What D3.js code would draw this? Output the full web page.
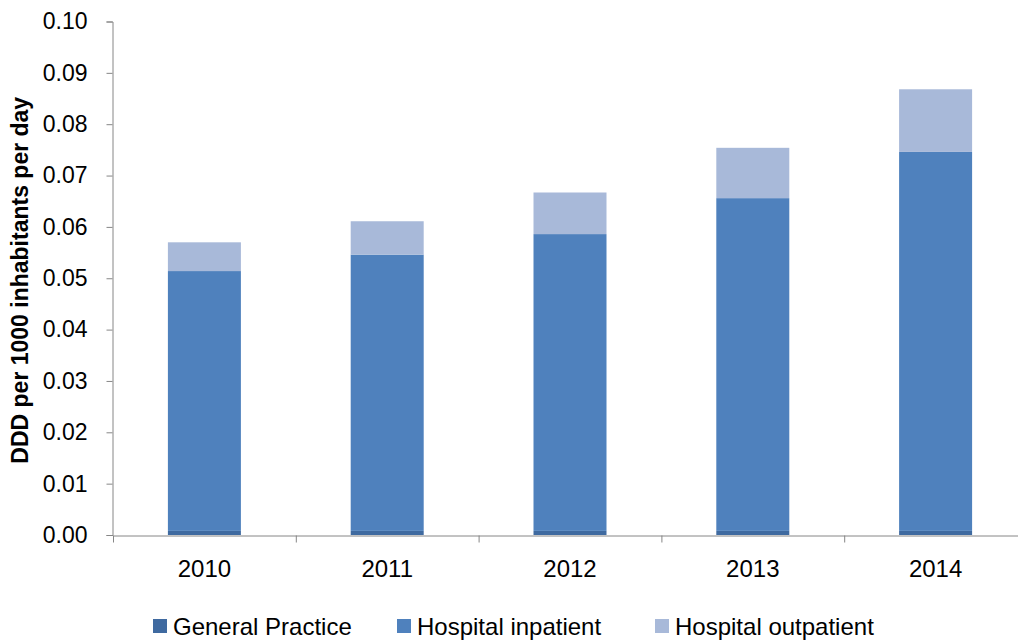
<!DOCTYPE html>
<html>
<head>
<meta charset="utf-8">
<script src="https://cdn.jsdelivr.net/npm/d3@7"></script>
<style>
  html, body { margin: 0; padding: 0; background: #fff; }
  svg { display: block; font-family: "Liberation Sans", Arial, sans-serif; }
</style>
</head>
<body>
<svg id="chart" width="1018" height="640"></svg>
<script>
const years = ["2010", "2011", "2012", "2013", "2014"];
const seriesNames = ["General Practice", "Hospital inpatient", "Hospital outpatient"];
const generalPractice = [0.0008, 0.0008, 0.0008, 0.0008, 0.0008];
const hospitalInpatient = [0.0506, 0.0538, 0.0578, 0.0648, 0.0738];
const hospitalOutpatient = [0.0056, 0.0065, 0.0081, 0.0098, 0.0122];
const yTicks = [0, 0.01, 0.02, 0.03, 0.04, 0.05, 0.06, 0.07, 0.08, 0.09, 0.10];
const colors = ["#3f6aa0", "#4f81bd", "#a8b9d9"];

const svg = d3.select("#chart");
const x0 = 113, band = 182.8;
const x = d3.scaleBand().domain(years).range([x0, x0 + band * years.length]).paddingInner(0).paddingOuter(0);
const y = d3.scaleLinear().domain([0, 0.10]).range([535, 21.5]);
const barW = 73;

const rows = years.map((yr, i) => ({
  year: yr,
  "General Practice": generalPractice[i],
  "Hospital inpatient": hospitalInpatient[i],
  "Hospital outpatient": hospitalOutpatient[i]
}));
const stacked = d3.stack().keys(seriesNames)(rows);

// Y axis
const yAxis = d3.axisLeft(y).tickValues(yTicks).tickSize(6).tickPadding(19).tickFormat(d3.format(".2f"));
const gy = svg.append("g").attr("transform", `translate(${x0 - 0.5},0)`).call(yAxis);
gy.select(".domain").attr("stroke", "#868686");
gy.selectAll(".tick line").attr("stroke", "#868686");
gy.selectAll(".tick text").attr("font-size", 23).attr("fill", "#000");

// Bars
svg.append("g").selectAll("g").data(stacked).join("g")
  .attr("fill", (d, i) => colors[i])
  .selectAll("rect").data(d => d).join("rect")
  .attr("x", d => x(d.data.year) + band / 2 - barW / 2)
  .attr("width", barW)
  .attr("y", d => y(d[1]))
  .attr("height", d => y(d[0]) - y(d[1]));

// X axis
const xAxis = d3.axisBottom(x).tickSize(0).tickPadding(24);
const gx = svg.append("g").attr("transform", `translate(0,${y(0) + 0.5})`).call(xAxis);
gx.select(".domain").attr("stroke", "#868686");
gx.selectAll(".tick text").attr("font-size", 24).attr("fill", "#000");
// category boundary ticks
const boundaries = d3.range(years.length + 1).map(i => x0 + i * band);
gx.selectAll(".bt").data(boundaries).join("line").attr("class", "bt")
  .attr("x1", d => d + 0.5).attr("x2", d => d + 0.5)
  .attr("y1", 0).attr("y2", 7).attr("stroke", "#868686");

// Y axis title
svg.append("text")
  .attr("transform", `translate(28,${(y(0) + y(0.10)) / 2 + 2}) rotate(-90)`)
  .attr("text-anchor", "middle")
  .attr("font-size", 23).attr("font-weight", "bold")
  .text("DDD per 1000 inhabitants per day");

// Legend
const legendX = [153, 397, 655];
const lg = svg.append("g").selectAll("g").data(seriesNames).join("g")
  .attr("transform", (d, i) => `translate(${legendX[i]},626)`);
lg.append("rect").attr("x", 0).attr("y", -7).attr("width", 14).attr("height", 14)
  .attr("fill", (d, i) => colors[i]);
lg.append("text").attr("x", 20).attr("y", 9).attr("font-size", 24).text(d => d);
</script>
</body>
</html>
